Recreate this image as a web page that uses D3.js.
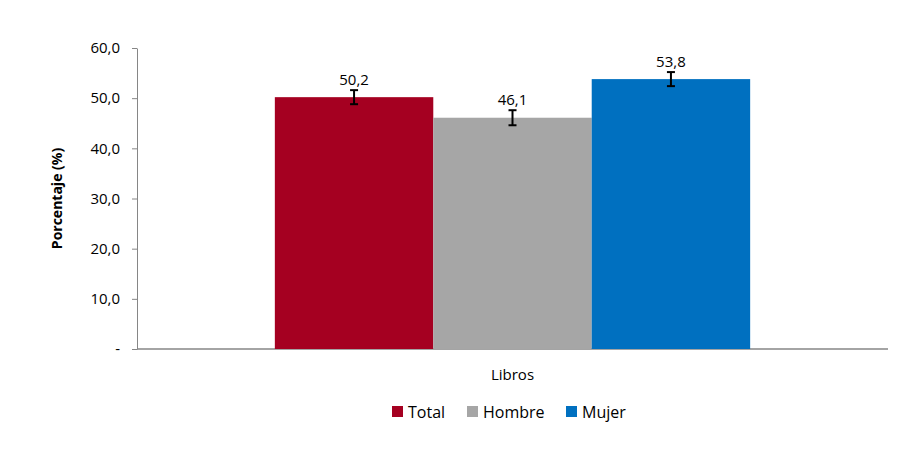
<!DOCTYPE html>
<html><head><meta charset="utf-8">
<script src="https://cdn.jsdelivr.net/npm/d3@7"></script>
<style>body{margin:0;background:#fff;font-family:"Open Sans",Calibri,sans-serif}</style>
</head><body>
<svg id="chart" width="924" height="457"></svg>
<script>
var categories = ["Libros"];
var series = ["Total", "Hombre", "Mujer"];
var values = [50.2, 46.1, 53.8];
var errors = [1.4, 1.5, 1.4];
var colors = ["#A50021", "#A6A6A6", "#0070C0"];
var ticks = [0, 10, 20, 30, 40, 50, 60];

var svg = d3.select("#chart");
var mLeft = 137, mRight = 888, mTop = 48, mBottom = 349;

var y = d3.scaleLinear().domain([0, 60]).range([mBottom, mTop]);
var x0 = d3.scaleBand().domain(categories).range([mLeft, mRight]).paddingInner(0).paddingOuter(0.29);
var x1 = d3.scaleBand().domain(series).range([0, x0.bandwidth()]);

// axes
var fmt = function(d) { return d === 0 ? "-" : d3.format(".1f")(d).replace(".", ","); };
svg.append("g").attr("transform", "translate(" + mLeft + ",0)")
  .call(d3.axisLeft(y).tickValues(ticks).tickFormat(fmt).tickSize(5).tickSizeOuter(0))
  .call(g => g.select(".domain").attr("stroke", "#868686"))
  .call(g => g.selectAll(".tick line").attr("stroke", "#868686"))
  .call(g => g.selectAll("text").attr("font-size", 15).attr("fill", "#000").attr("font-family", "Open Sans").attr("x", -17));

svg.append("line").attr("x1", mLeft).attr("x2", mRight).attr("y1", mBottom).attr("y2", mBottom)
  .attr("stroke", "#868686").attr("stroke-width", 1.5);

svg.append("text").attr("transform", "translate(62," + (mTop + mBottom) / 2 + ") rotate(-90)")
  .attr("text-anchor", "middle").attr("font-size", 14).attr("font-weight", "bold").text("Porcentaje (%)");

var g = svg.append("g").attr("transform", "translate(" + x0("Libros") + ",0)");
series.forEach(function(s, i) {
  var bx = x1(s), bw = x1.bandwidth();
  g.append("rect").attr("x", bx).attr("width", bw).attr("y", y(values[i]))
    .attr("height", y(0) - y(values[i])).attr("fill", colors[i]);
  var cx = bx + bw / 2;
  var lo = y(values[i] - errors[i]), hi = y(values[i] + errors[i]);
  g.append("line").attr("x1", cx).attr("x2", cx).attr("y1", lo).attr("y2", hi).attr("stroke", "#000").attr("stroke-width", 2);
  [lo, hi].forEach(function(v) {
    g.append("line").attr("x1", cx - 4).attr("x2", cx + 4).attr("y1", v).attr("y2", v).attr("stroke", "#000").attr("stroke-width", 2);
  });
  g.append("text").attr("x", cx).attr("y", hi - 5).attr("text-anchor", "middle")
    .attr("font-size", 15).text(d3.format(".1f")(values[i]).replace(".", ","));
});

svg.append("text").attr("x", x0("Libros") + x0.bandwidth() / 2).attr("y", 380)
  .attr("text-anchor", "middle").attr("font-size", 15).text(categories[0]);

// legend
var lx = [392, 467, 566];
series.forEach(function(s, i) {
  svg.append("rect").attr("x", lx[i]).attr("y", 406).attr("width", 11).attr("height", 11).attr("fill", colors[i]);
  svg.append("text").attr("x", lx[i] + 16).attr("y", 418).attr("font-size", 16).text(s);
});
</script>
</body></html>
